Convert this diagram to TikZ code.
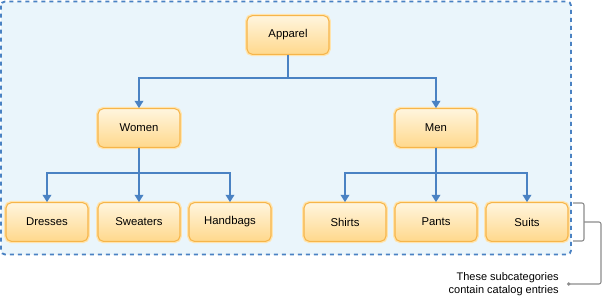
\documentclass[tikz,border=0pt]{standalone}
\usepackage{fontspec}
\setmainfont{Liberation Sans}
\usetikzlibrary{arrows.meta,positioning}
\definecolor{boxfill}{HTML}{EAF5FB}
\definecolor{linkblue}{HTML}{4A82C3}
\definecolor{cattop}{HTML}{FFF5DE}
\definecolor{catbot}{HTML}{FFD88C}
\definecolor{catedge}{HTML}{F6B54A}
\definecolor{catglow}{HTML}{FFE4AE}
\definecolor{notegray}{HTML}{8C8C8C}

\begin{document}
\begin{tikzpicture}[x=0.75pt, y=-0.75pt,
    category/.style={rectangle, rounded corners=4pt, draw=catedge, line width=0.8pt,
        top color=cattop, bottom color=catbot, minimum height=29pt, minimum width=61.5pt,
        font=\fontsize{8.5}{10}\selectfont, preaction={draw=catglow, line width=2.8pt}},
    link/.style={draw=linkblue, line width=1.2pt, -{Triangle[width=6.5pt,length=5.5pt]}},
    container/.style={draw=linkblue, fill=boxfill, line width=1.4pt, rounded corners=3pt,
        dash pattern=on 3pt off 3pt},
    bracket/.style={draw=notegray, line width=0.8pt, rounded corners=1.5pt},
    note/.style={align=right, inner xsep=6pt, inner ysep=0pt, font=\fontsize{8.25}{10}\selectfont}
]
\useasboundingbox (0,0) rectangle (603,298);

% Group box
\draw[container] (1,1.5) rectangle (571,254.5);

% Categories
\node[category] (apparel) at (288,35) {Apparel};
\node[category] (women) at (139,128) {Women};
\node[category] (men) at (436,128) {Men};

% Subcategories
\node[category] (dresses) at (47,222) {Dresses};
\node[category] (sweaters) at (139,222) {Sweaters};
\node[category] (handbags) at (230,222) {Handbags};
\node[category] (shirts) at (345,222) {Shirts};
\node[category] (pants) at (436,222) {Pants};
\node[category] (suits) at (527,222) {Suits};

% Links
\foreach \kid in {women,men}
  \draw[link] (apparel.south) -- ++(0,23) -| (\kid.north);
\foreach \kid in {dresses,sweaters,handbags}
  \draw[link] (women.south) -- ++(0,25) -| (\kid.north);
\foreach \kid in {shirts,pants,suits}
  \draw[link] (men.south) -- ++(0,25) -| (\kid.north);

% Note
\node[note, anchor=east] (note) at (567,284) {These subcategories\\contain catalog entries};
\coordinate (brk) at (584,222);
\draw[bracket] (573,203) -| (brk) |- (573,241);
\draw[bracket, -{Circle[length=2.5pt]}] (brk) -- (601,222) |- (note.east);

\end{tikzpicture}
\end{document}
